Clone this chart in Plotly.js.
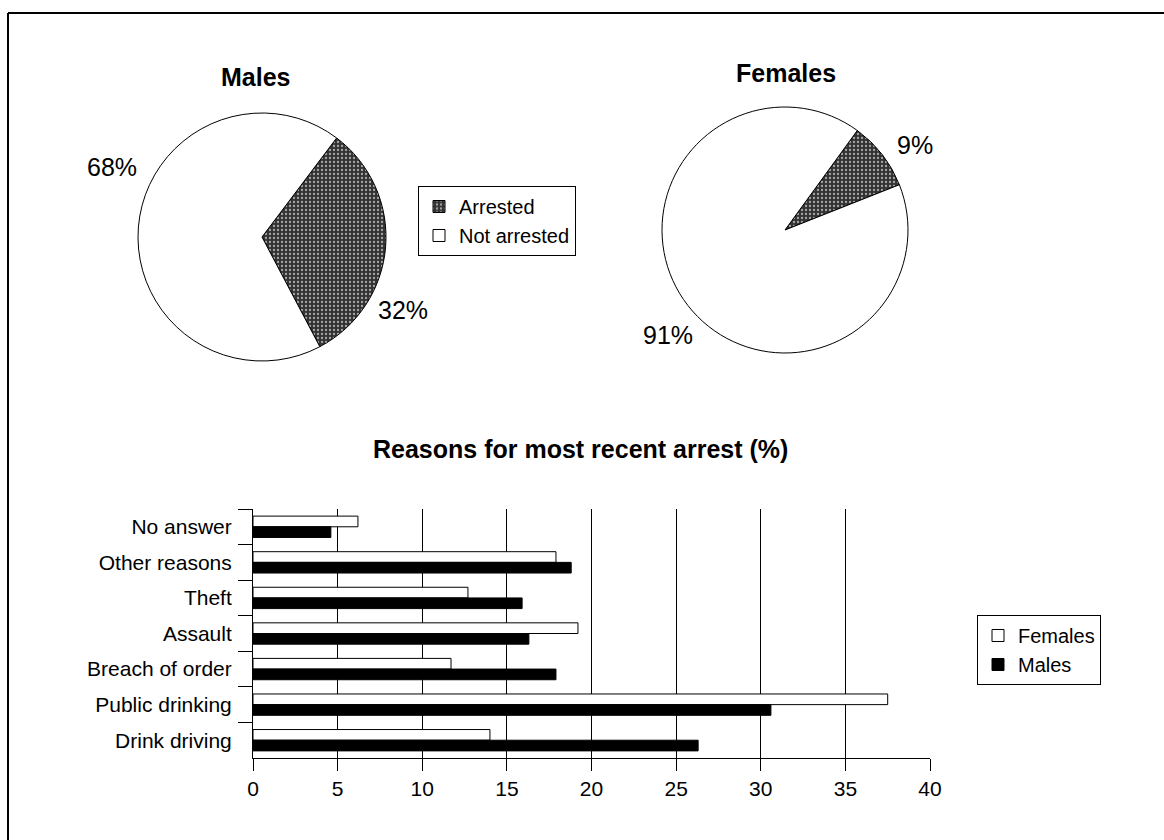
<!DOCTYPE html>
<html><head><meta charset="utf-8">
<script src="https://cdn.plot.ly/plotly-3.0.1.min.js"></script>
<style>html,body{margin:0;padding:0;background:#fff}#chart{width:1164px;height:840px}</style>
</head><body><div id="chart"></div>
<script>
const pieLabels = ['Arrested', 'Not arrested'];
const malesPct = [32, 68];
const femalesPct = [9, 91];
const reasons = ['No answer', 'Other reasons', 'Theft', 'Assault', 'Breach of order', 'Public drinking', 'Drink driving'];
const femalesReasons = [6.2, 17.9, 12.7, 19.2, 11.7, 37.5, 14.0];
const malesReasons = [4.6, 18.8, 15.9, 16.3, 17.9, 30.6, 26.3];
const xTicks = [0, 5, 10, 15, 20, 25, 30, 35, 40];

const W = 1164, H = 840;
const px = x => x / W;
const py = y => 1 - y / H;
const FONT = 'Liberation Sans, Arial, sans-serif';

const pieMarker = {
  colors: ['#3a3a3a', '#ffffff'],
  line: {color: '#000', width: 1},
  pattern: {shape: ['.', ''], fgcolor: ['#a8a8a8', '#ffffff'], bgcolor: ['#333333', '#ffffff'], size: 4, solidity: 0.25}
};

const traces = [
  {
    type: 'pie', labels: pieLabels, values: malesPct, sort: false,
    direction: 'clockwise', rotation: 37, textinfo: 'none', hoverinfo: 'label+percent',
    marker: pieMarker,
    domain: {x: [px(138), px(386)], y: [py(361), py(113)]},
    legend: 'legend'
  },
  {
    type: 'pie', labels: pieLabels, values: femalesPct, sort: false,
    direction: 'clockwise', rotation: 36, textinfo: 'none', hoverinfo: 'label+percent',
    marker: pieMarker,
    domain: {x: [px(662), px(908)], y: [py(353), py(107)]},
    legend: 'legend2'
  },
  {
    type: 'bar', orientation: 'h', name: 'Females', y: reasons, x: femalesReasons,
    marker: {color: '#ffffff', line: {color: '#000', width: 1}},
    xaxis: 'x', yaxis: 'y', legend: 'legend3'
  },
  {
    type: 'bar', orientation: 'h', name: 'Males', y: reasons, x: malesReasons,
    marker: {color: '#000000', line: {color: '#000', width: 1}},
    xaxis: 'x', yaxis: 'y', legend: 'legend3'
  }
];

const legendBase = {
  font: {family: FONT, size: 20, color: '#000'},
  bgcolor: '#fff', bordercolor: '#000', borderwidth: 1,
  xanchor: 'left', yanchor: 'top', traceorder: 'normal', tracegroupgap: 0
};

function ann(text, x, y, size) {
  return {text: text, x: px(x), y: py(y), xref: 'paper', yref: 'paper',
          xanchor: 'center', yanchor: 'middle', showarrow: false,
          font: {family: FONT, size: size, color: '#000'}};
}

const layout = {
  width: W, height: H,
  margin: {l: 0, r: 0, t: 0, b: 0},
  paper_bgcolor: '#fff', plot_bgcolor: '#fff',
  font: {family: FONT, size: 21, color: '#000'},
  showlegend: true,
  barmode: 'group', bargap: 0.4, bargroupgap: 0,
  legend: Object.assign({}, legendBase, {x: px(418), y: py(186)}),
  legend2: Object.assign({}, legendBase, {x: px(938), y: py(183)}),
  legend3: Object.assign({}, legendBase, {x: px(977), y: py(615)}),
  xaxis: {
    domain: [px(253), px(930)], range: [0, 40], tickvals: xTicks,
    showgrid: true, gridcolor: '#000', gridwidth: 1,
    showline: true, linecolor: '#000', linewidth: 1, zeroline: false,
    ticks: 'outside', ticklen: 12, tickcolor: '#000',
    tickfont: {family: FONT, size: 21, color: '#000'}, fixedrange: true
  },
  yaxis: {
    domain: [py(758), py(509)], type: 'category', autorange: 'reversed',
    showgrid: false, showline: true, linecolor: '#000', linewidth: 1,
    ticks: 'outside', ticklen: 14, tickcolor: '#000', tickson: 'boundaries',
    ticklabelstandoff: 16,
    tickfont: {family: FONT, size: 21, color: '#000'}, fixedrange: true
  },
  annotations: [
    ann('<b>Males</b>', 255, 77, 25),
    ann('<b>Females</b>', 786, 73, 25),
    ann('<b>Reasons for most recent arrest (%)</b>', 580, 449, 25),
    ann(malesPct[1] + '%', 112, 167, 25),
    ann(malesPct[0] + '%', 403, 310, 25),
    ann(femalesPct[0] + '%', 915, 145, 25),
    ann(femalesPct[1] + '%', 668, 335, 25)
  ],
  shapes: [
    {type: 'line', xref: 'paper', yref: 'paper', x0: px(8), x1: px(8), y0: py(13), y1: 0, line: {color: '#000', width: 2}},
    {type: 'line', xref: 'paper', yref: 'paper', x0: px(8), x1: 1, y0: py(13), y1: py(13), line: {color: '#000', width: 2}}
  ]
};

Plotly.newPlot('chart', traces, layout, {displayModeBar: false, staticPlot: true});
</script>
</body></html>
